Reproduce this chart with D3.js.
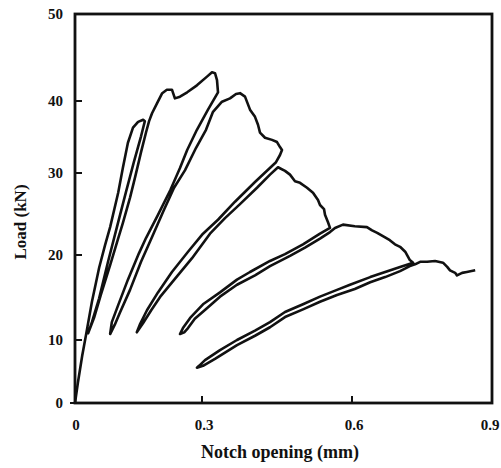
<!DOCTYPE html>
<html>
  <head>
    <meta charset="utf-8">
    <title>Load vs notch opening</title>
    <script src="https://d3js.org/d3.v7.min.js"></script>
    <style>
      body { margin: 0; background: #fff; }
      text { font-family: "Liberation Serif", "Times New Roman", serif; font-weight: bold; fill: #111; }
    </style>
  </head>
  <body>
    <script>

      // tick labels
      var xTicks = [0, 0.3, 0.6, 0.9];
      var yTicks = [0, 10, 20, 30, 40, 50];

      // [notch opening (mm), load (kN)], branch by branch
      var loading1 = [[0,0],[0.007,3.3],[0.017,7.5],[0.026,10.6],[0.040,14.5],[0.057,18.5],[0.071,21.2],
        [0.083,23.4],[0.102,27.6],[0.113,30.7],[0.125,34.2],[0.137,36.3],[0.149,37.1],[0.161,37.4]];
      var unload1 = [[0.165,37.2],[0.156,35.1],[0.139,31.5],[0.120,27.6],[0.099,23.4],[0.078,19.2],
        [0.057,14.9],[0.040,12.1],[0.031,10.8]];
      var reload1 = [[0.045,12.6],[0.061,15.3],[0.083,18.8],[0.099,21.5],[0.113,23.9],[0.130,27.0],
        [0.142,29.5],[0.156,32.9],[0.168,35.7],[0.175,37.2]];
      var peak1 = [[0.182,38.3],[0.194,39.7],[0.206,40.9],[0.217,41.3],[0.229,41.3],[0.236,40.3],[0.248,40.5],
        [0.265,41.0],[0.288,41.8],[0.310,42.8],[0.320,43.3],[0.326,43.2],[0.330,42.4],[0.332,41.0]];
      var unload2 = [[0.312,38.8],[0.288,36.0],[0.265,33.2],[0.248,30.7],[0.225,27.9],[0.196,24.9],
        [0.168,22.1],[0.151,20.2],[0.125,17.1],[0.102,14.1],[0.087,12.1],[0.083,10.7]];
      var reload2 = [[0.094,11.8],[0.106,13.2],[0.130,15.9],[0.156,19.2],[0.182,22.2],[0.210,25.5],
        [0.234,28.2],[0.260,30.4],[0.286,33.5],[0.308,36.0],[0.322,38.5],[0.340,39.9],[0.356,40.3],
        [0.368,40.8],[0.376,40.9]];
      var peak2 = [[0.386,40.5],[0.396,38.8],[0.406,37.8],[0.412,36.7],[0.416,35.6],[0.426,34.9],
        [0.440,34.6],[0.450,34.3],[0.456,33.6],[0.460,33.2],[0.456,32.5],[0.448,31.5]];
      var unload3 = [[0.406,28.9],[0.366,26.5],[0.332,24.3],[0.302,22.6],[0.267,20.4],[0.229,18.0],
        [0.196,15.6],[0.170,13.5],[0.154,11.9],[0.146,10.9]];
      var reload3 = [[0.161,12.0],[0.180,13.5],[0.203,15.2],[0.236,17.2],[0.276,19.6],[0.316,22.6],
        [0.346,24.5],[0.376,26.2],[0.410,28.2],[0.436,29.8],[0.452,30.8]];
      var peak3 = [[0.466,30.3],[0.476,29.8],[0.486,29.0],[0.496,28.8],[0.510,28.2],[0.522,27.6],
        [0.532,26.7],[0.536,26.1],[0.544,25.6],[0.546,24.9],[0.552,24.0],[0.556,23.3]];
      var unload4 = [[0.536,22.6],[0.502,21.3],[0.466,20.1],[0.436,19.3],[0.396,18.0],[0.370,17.1],
        [0.336,15.6],[0.302,14.2],[0.272,12.6],[0.255,11.4],[0.248,10.7]];
      var reload4 = [[0.258,10.9],[0.267,11.4],[0.283,12.5],[0.307,13.6],[0.336,15.1],[0.370,16.5],
        [0.406,17.6],[0.436,18.7],[0.476,19.9],[0.506,20.9],[0.536,22.0],[0.556,22.8],[0.566,23.3]];
      var peak4 = [[0.582,23.7],[0.606,23.5],[0.632,23.4],[0.643,23.0],[0.654,22.7],[0.669,22.2],
        [0.681,21.8],[0.692,21.3],[0.703,21.0],[0.714,20.4],[0.724,19.4],[0.731,19.1]];
      var unload5 = [[0.703,18.6],[0.671,18.0],[0.639,17.4],[0.596,16.5],[0.570,15.9],[0.536,15.1],
        [0.502,14.2],[0.466,13.3],[0.436,12.1],[0.406,11.1],[0.370,10.0],[0.336,8.4],[0.306,6.8],
        [0.293,5.9],[0.288,5.6]];
      var reload5 = [[0.302,5.9],[0.326,7.0],[0.370,9.2],[0.406,10.5],[0.436,11.5],[0.466,12.7],
        [0.502,13.6],[0.536,14.5],[0.570,15.3],[0.606,16.0],[0.639,16.8],[0.671,17.4],[0.703,18.1],
        [0.724,18.7],[0.735,18.9]];
      var tail = [[0.746,19.2],[0.761,19.2],[0.778,19.3],[0.795,19.1],[0.804,18.6],[0.810,18.2],
        [0.821,17.9],[0.825,17.6],[0.836,17.9],[0.846,18.0],[0.864,18.2]];

      var curve = [].concat(loading1, unload1, reload1, peak1, unload2, reload2, peak2,
        unload3, reload3, peak3, unload4, reload4, peak4, unload5, reload5, tail);

      var width = 501, height = 468;

      // the printed axes are not evenly spaced, so the scales follow the tick marks
      var x = d3.scaleLinear().domain(xTicks).range([75, 202, 352, 492]);
      var y = d3.scaleLinear().domain(yTicks).range([403, 340, 255, 173, 101, 14]);

      var svg = d3.select("body")
                  .append("svg")
                  .attr("width", width)
                  .attr("height", height);

      // frame
      svg.append("rect")
         .attr("x", x(0))
         .attr("y", y(50))
         .attr("width", x(0.9) - x(0))
         .attr("height", y(0) - y(50))
         .attr("fill", "none")
         .attr("stroke", "#111")
         .attr("stroke-width", 2.8);

      // inward ticks
      svg.selectAll(".ytick")
         .data(yTicks.slice(1, -1))
         .enter()
         .append("line")
         .attr("x1", x(0))
         .attr("x2", x(0) + 7)
         .attr("y1", function(d) { return y(d); })
         .attr("y2", function(d) { return y(d); })
         .attr("stroke", "#111")
         .attr("stroke-width", 2);

      svg.selectAll(".xtick")
         .data(xTicks.slice(1, -1))
         .enter()
         .append("line")
         .attr("x1", function(d) { return x(d); })
         .attr("x2", function(d) { return x(d); })
         .attr("y1", y(0))
         .attr("y2", y(0) - 7)
         .attr("stroke", "#111")
         .attr("stroke-width", 2);

      // small outside mark at zero load
      svg.append("line")
         .attr("x1", x(0) - 5).attr("x2", x(0) - 1)
         .attr("y1", y(0)).attr("y2", y(0))
         .attr("stroke", "#111").attr("stroke-width", 2);

      svg.selectAll(".ylab")
         .data(yTicks)
         .enter()
         .append("text")
         .attr("x", x(0) - 12)
         .attr("y", function(d) { return y(d); })
         .attr("dy", "0.35em")
         .attr("text-anchor", "end")
         .attr("font-size", 15)
         .text(function(d) { return d; });

      svg.selectAll(".xlab")
         .data(xTicks)
         .enter()
         .append("text")
         .attr("x", function(d, i) { return x(d) + (i == 0 ? 1 : i == 3 ? -2 : 2); })
         .attr("y", 430)
         .attr("text-anchor", "middle")
         .attr("font-size", 15)
         .text(function(d) { return d; });

      svg.append("text")
         .attr("x", 280)
         .attr("y", 458)
         .attr("text-anchor", "middle")
         .attr("font-size", 18)
         .text("Notch opening (mm)");

      svg.append("text")
         .attr("transform", "translate(26,222) rotate(-90)")
         .attr("text-anchor", "middle")
         .attr("font-size", 17)
         .text("Load (kN)");

      var line = d3.line()
                   .x(function(d) { return x(d[0]); })
                   .y(function(d) { return y(d[1]); });

      svg.append("path")
         .datum(curve)
         .attr("d", line)
         .attr("fill", "none")
         .attr("stroke", "#111")
         .attr("stroke-width", 2.6)
         .attr("stroke-linejoin", "round");

    </script>
  </body>
</html>
